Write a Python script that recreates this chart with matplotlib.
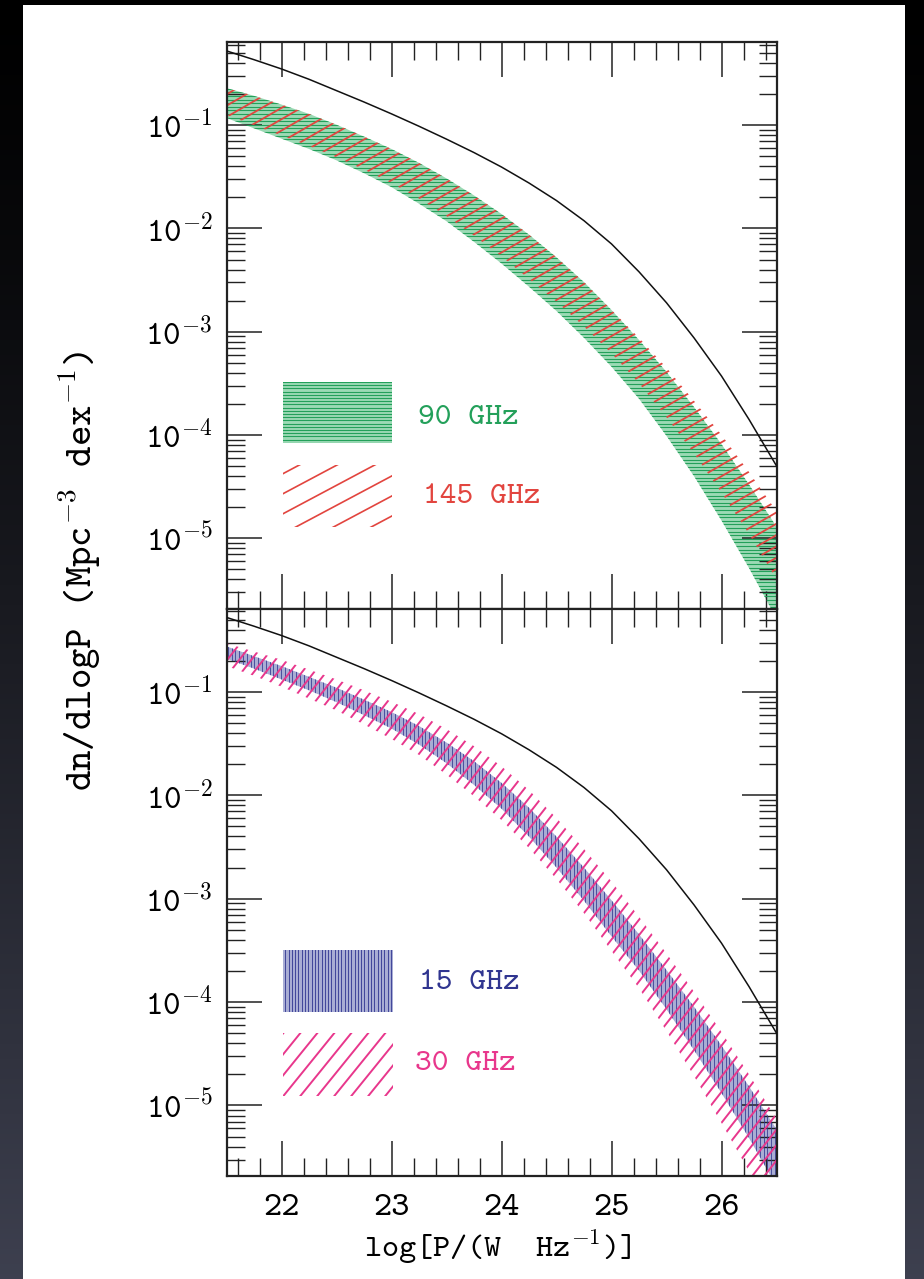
import numpy as np
import matplotlib
matplotlib.use('Agg')
import matplotlib.pyplot as plt
from matplotlib.collections import LineCollection
from matplotlib.patches import Rectangle
from matplotlib.ticker import MultipleLocator, LogLocator, FuncFormatter, NullFormatter

plt.rcParams['font.family'] = ['cmtt10', 'DejaVu Sans']
plt.rcParams['mathtext.fontset'] = 'cm'

# log[P / (W Hz^-1)] grid
logp = [21.5, 21.75, 22.0, 22.25, 22.5, 22.75, 23.0, 23.25, 23.5, 23.75, 24.0,
        24.25, 24.5, 24.75, 25.0, 25.25, 25.5, 25.75, 26.0, 26.25, 26.5]

# local radio luminosity function (log10 of dn/dlogP)
lf_local = [-0.28, -0.365, -0.455, -0.555, -0.665, -0.775, -0.89, -1.01, -1.135, -1.265, -1.405,
            -1.56, -1.73, -1.925, -2.15, -2.42, -2.72, -3.06, -3.43, -3.85, -4.30]

# high frequency bands (log10 upper / lower)
hi90 = [-0.64, -0.715, -0.80, -0.89, -0.995, -1.11, -1.23, -1.365, -1.515, -1.68, -1.86,
        -2.06, -2.28, -2.52, -2.79, -3.08, -3.39, -3.73, -4.09, -4.48, -4.89]
lo90 = [-0.93, -1.03, -1.13, -1.23, -1.34, -1.465, -1.60, -1.76, -1.93, -2.13, -2.34,
        -2.565, -2.80, -3.06, -3.34, -3.65, -4.01, -4.40, -4.83, -5.29, -5.78]
hi145 = [-0.64, -0.715, -0.80, -0.89, -0.995, -1.11, -1.23, -1.365, -1.515, -1.68, -1.86,
         -2.06, -2.28, -2.52, -2.79, -3.06, -3.35, -3.67, -4.00, -4.36, -4.74]
lo145 = [-0.90, -1.00, -1.10, -1.20, -1.31, -1.43, -1.56, -1.71, -1.88, -2.07, -2.27,
         -2.49, -2.71, -2.95, -3.21, -3.50, -3.83, -4.18, -4.56, -4.96, -5.40]

# low frequency bands
hi15 = [-0.56, -0.655, -0.75, -0.855, -0.96, -1.075, -1.195, -1.33, -1.49, -1.67, -1.88,
        -2.12, -2.40, -2.70, -3.015, -3.345, -3.69, -4.045, -4.42, -4.815, -5.23]
lo15 = [-0.68, -0.775, -0.88, -0.985, -1.10, -1.225, -1.355, -1.51, -1.69, -1.90, -2.13,
        -2.40, -2.70, -3.02, -3.365, -3.695, -4.07, -4.465, -4.88, -5.315, -5.78]
hi30 = [-0.53, -0.61, -0.69, -0.785, -0.88, -0.985, -1.095, -1.215, -1.36, -1.525, -1.72,
        -1.95, -2.22, -2.52, -2.835, -3.175, -3.53, -3.90, -4.29, -4.70, -5.13]
lo30 = [-0.75, -0.845, -0.95, -1.065, -1.18, -1.315, -1.455, -1.61, -1.80, -2.01, -2.24,
        -2.51, -2.81, -3.14, -3.505, -3.865, -4.28, -4.715, -5.17, -5.635, -6.13]

labels_top = ['90 GHz', '145 GHz']
labels_bot = ['15 GHz', '30 GHz']

GREEN, GREEN_FILL = '#23a05a', '#9cdab5'
RED = '#e2453f'
NAVY, NAVY_FILL = '#303590', '#a9add4'
PINK = '#e8378c'

W_FIG, H_FIG, DPI = 924, 1279, 100
AX_L, AX_R = 226.5, 776.5
TOP_Y0, MID_Y, BOT_Y1 = 42, 608.5, 1176

fig = plt.figure(figsize=(W_FIG / DPI, H_FIG / DPI), dpi=DPI)

# slide background and white panel
bg = fig.add_axes([0, 0, 1, 1], zorder=-10)
grad = np.linspace(0, 1, 256)[:, None] ** 1.2
rgb = np.dstack([grad * 0.24, grad * 0.25, grad * 0.31])
bg.imshow(rgb, aspect='auto', extent=[0, 1, 0, 1], origin='upper')
bg.add_patch(Rectangle((23 / W_FIG, 0), (905 - 23) / W_FIG, 1 - 5 / H_FIG,
                       transform=bg.transAxes, facecolor='white', edgecolor='none'))
bg.set_axis_off()


def rect(y_top, y_bot):
    return [AX_L / W_FIG, 1 - y_bot / H_FIG, (AX_R - AX_L) / W_FIG, (y_bot - y_top) / H_FIG]


ax1 = fig.add_axes(rect(TOP_Y0, MID_Y))
ax2 = fig.add_axes(rect(MID_Y, BOT_Y1), sharex=ax1)
AX_W = AX_R - AX_L


def hatch_lines(ax, angle, spacing, color, lw, h_px):
    # parallel lines laid out in pixel units, expressed in axes fraction
    th = np.radians(angle)
    d = np.array([np.cos(th), np.sin(th)])
    n = np.array([-np.sin(th), np.cos(th)])
    L = np.hypot(AX_W, h_px)
    segs = []
    for k in np.arange(-L, L, spacing):
        c = np.array([AX_W / 2, h_px / 2]) + k * n
        p0, p1 = c - L * d, c + L * d
        segs.append([(p0[0] / AX_W, p0[1] / h_px), (p1[0] / AX_W, p1[1] / h_px)])
    lc = LineCollection(segs, colors=color, linewidths=lw, transform=ax.transAxes)
    ax.add_collection(lc)
    return lc


def band(ax, hi, lo, fill, angle, spacing, color, lw, h_px):
    x = np.array(logp)
    poly = ax.fill_between(x, 10 ** np.array(lo), 10 ** np.array(hi),
                           facecolor=fill if fill else 'none', edgecolor='none', lw=0)
    lc = hatch_lines(ax, angle, spacing, color, lw, h_px)
    lc.set_clip_path(poly.get_paths()[0], ax.transData)


def key_box(ax, x0, y0, x1, y1, fill, angle, spacing, color, lw, h_px):
    r = Rectangle((x0, y0), x1 - x0, y1 - y0, transform=ax.transAxes,
                  facecolor=fill if fill else 'none', edgecolor='none')
    ax.add_patch(r)
    lc = hatch_lines(ax, angle, spacing, color, lw, h_px)
    lc.set_clip_path(r)


h1 = MID_Y - TOP_Y0
h2 = BOT_Y1 - MID_Y

# top panel: 90 and 145 GHz
ax1.plot(logp, 10 ** np.array(lf_local), color='#111111', lw=1.1, zorder=5)
band(ax1, hi90, lo90, GREEN_FILL, 0, 3.6, GREEN, 0.8, h1)
band(ax1, hi145, lo145, None, 30, 9.8, RED, 1.3, h1)
key_box(ax1, 0.102, 0.292, 0.301, 0.399, GREEN_FILL, 0, 3.2, GREEN, 0.8, h1)
key_box(ax1, 0.102, 0.143, 0.301, 0.253, None, 28, 17.7, RED, 1.2, h1)
ax1.text(0.348, 0.337, labels_top[0], transform=ax1.transAxes, color=GREEN,
         fontsize=23, va='center', ha='left')
ax1.text(0.358, 0.196, labels_top[1], transform=ax1.transAxes, color=RED,
         fontsize=23, va='center', ha='left')

# bottom panel: 15 and 30 GHz
ax2.plot(logp, 10 ** np.array(lf_local), color='#111111', lw=1.1, zorder=5)
band(ax2, hi15, lo15, NAVY_FILL, 90, 3.8, NAVY, 0.55, h2)
band(ax2, hi30, lo30, None, 52, 9.5, PINK, 1.4, h2)
key_box(ax2, 0.103, 0.289, 0.303, 0.399, NAVY_FILL, 90, 3.3, NAVY, 0.6, h2)
key_box(ax2, 0.103, 0.141, 0.303, 0.252, None, 51, 13.2, PINK, 1.4, h2)
ax2.text(0.350, 0.340, labels_bot[0], transform=ax2.transAxes, color=NAVY,
         fontsize=23, va='center', ha='left')
ax2.text(0.343, 0.198, labels_bot[1], transform=ax2.transAxes, color=PINK,
         fontsize=23, va='center', ha='left')

for ax in (ax1, ax2):
    ax.set_yscale('log')
    ax.set_xlim(21.5, 26.5)
    ax.set_ylim(2.08e-6, 0.64)
    ax.xaxis.set_major_locator(MultipleLocator(1))
    ax.xaxis.set_minor_locator(MultipleLocator(0.2))
    ax.yaxis.set_major_locator(LogLocator(base=10, numticks=20))
    ax.yaxis.set_minor_locator(LogLocator(base=10, subs=np.arange(2, 10), numticks=20))
    ax.yaxis.set_major_formatter(FuncFormatter(lambda v, p: r'10$^{\mathtt{%d}}$' % round(np.log10(v))))
    ax.yaxis.set_minor_formatter(NullFormatter())
    ax.tick_params(which='both', direction='in', top=True, right=True, color='#222222')
    ax.tick_params(which='major', length=25, width=1.1, labelsize=24, pad=10,
                   labelfontfamily='cmtt10')
    ax.tick_params(which='minor', length=13, width=1.0)
    ax.tick_params(axis='x', which='major', pad=13, labelsize=25)
    for s in ax.spines.values():
        s.set_linewidth(1.6)
        s.set_color('#222222')

ax1.tick_params(axis='x', labelbottom=False)
ax2.xaxis.set_major_formatter(FuncFormatter(lambda v, p: '%d' % v))

fig.text(498 / W_FIG, 1 - 1246 / H_FIG, r'log[P/(W  Hz$^{\mathtt{-1}}$)]',
         ha='center', va='center', fontsize=23.5)
fig.text(79 / W_FIG, 1 - 571 / H_FIG, r'dn/dlogP (Mpc$^{\mathtt{-3}}$ dex$^{\mathtt{-1}}$)',
         ha='center', va='center', rotation=90, fontsize=28)

fig.savefig('out.png', dpi=DPI)
